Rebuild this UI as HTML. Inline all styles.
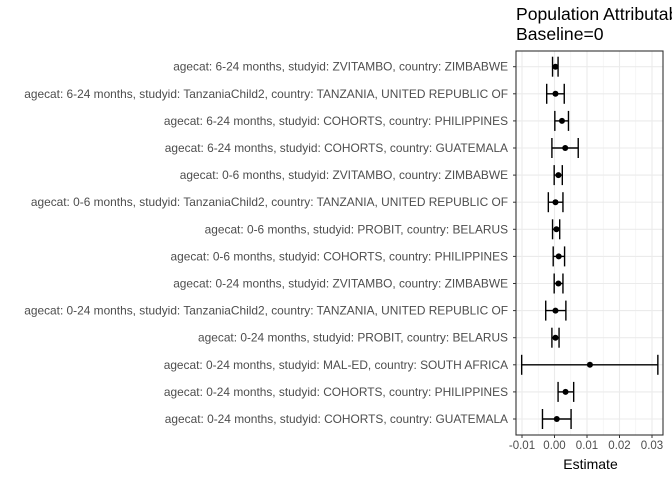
<!DOCTYPE html>
<html><head><meta charset="utf-8"><style>
body{margin:0;background:#fff;overflow:hidden}
svg{display:block;font-family:"Liberation Sans",sans-serif}
</style></head><body>
<svg id="c" width="672" height="480"></svg>
<script>
const labels=["agecat: 6-24 months, studyid: ZVITAMBO, country: ZIMBABWE","agecat: 6-24 months, studyid: TanzaniaChild2, country: TANZANIA, UNITED REPUBLIC OF","agecat: 6-24 months, studyid: COHORTS, country: PHILIPPINES","agecat: 6-24 months, studyid: COHORTS, country: GUATEMALA","agecat: 0-6 months, studyid: ZVITAMBO, country: ZIMBABWE","agecat: 0-6 months, studyid: TanzaniaChild2, country: TANZANIA, UNITED REPUBLIC OF","agecat: 0-6 months, studyid: PROBIT, country: BELARUS","agecat: 0-6 months, studyid: COHORTS, country: PHILIPPINES","agecat: 0-24 months, studyid: ZVITAMBO, country: ZIMBABWE","agecat: 0-24 months, studyid: TanzaniaChild2, country: TANZANIA, UNITED REPUBLIC OF","agecat: 0-24 months, studyid: PROBIT, country: BELARUS","agecat: 0-24 months, studyid: MAL-ED, country: SOUTH AFRICA","agecat: 0-24 months, studyid: COHORTS, country: PHILIPPINES","agecat: 0-24 months, studyid: COHORTS, country: GUATEMALA"];
const estimates=[0.0003,0.0003,0.0023,0.0033,0.0012,0.0003,0.0006,0.0013,0.0012,0.0003,0.0003,0.0109,0.0034,0.0007];
const lower=[-0.0006,-0.0024,0.0001,-0.0008,-0.0001,-0.0019,-0.0006,-0.0004,-0.0001,-0.0027,-0.0008,-0.0101,0.0011,-0.0037];
const upper=[0.0011,0.0030,0.0043,0.0073,0.0024,0.0026,0.0016,0.0031,0.0026,0.0035,0.0014,0.0318,0.0059,0.0051];
const ticks=[-0.01,0,0.01,0.02,0.03];
const tickLabels=["-0.01","0.00","0.01","0.02","0.03"];
const L=516,R=663,T=51,B=435;
const x=v=>554.5+v*3250;
const y=i=>66.7+i*(419-66.7)/(labels.length-1);
const svg=document.getElementById('c');const NS="http://www.w3.org/2000/svg";
function add(tag,a,name,txt){const e=document.createElementNS(NS,tag);for(const k in a)e.setAttribute(k,a[k]);


if(txt!==undefined)e.textContent=txt;svg.appendChild(e);return e;}
add('rect',{x:L,y:T,width:R-L,height:B-T,fill:'#fff'},'plot-panel');
for(let i=0;i<ticks.length-1;i++){const m=x((ticks[i]+ticks[i+1])/2);add('line',{x1:m,x2:m,y1:T,y2:B,stroke:'#f0f0f0','stroke-width':0.6},'minor-gridline');}
ticks.forEach(t=>add('line',{x1:x(t),x2:x(t),y1:T,y2:B,stroke:'#ebebeb','stroke-width':1.1},'major-gridline'));
labels.forEach((l,i)=>add('line',{x1:L,x2:R,y1:y(i),y2:y(i),stroke:'#ebebeb','stroke-width':1.1},'row-gridline'));
labels.forEach((l,i)=>{
add('line',{x1:x(lower[i]),x2:x(upper[i]),y1:y(i),y2:y(i),stroke:'#000','stroke-width':1.4},'ci-line');
add('line',{x1:x(lower[i]),x2:x(lower[i]),y1:y(i)-10,y2:y(i)+10,stroke:'#000','stroke-width':1.4},'ci-cap-low');
add('line',{x1:x(upper[i]),x2:x(upper[i]),y1:y(i)-10,y2:y(i)+10,stroke:'#000','stroke-width':1.4},'ci-cap-high');
add('circle',{cx:x(estimates[i]),cy:y(i),r:3,fill:'#000'},'estimate-point');
add('text',{x:508,y:y(i)+4,'text-anchor':'end','font-size':11.9,fill:'#4d4d4d'},'y-tick-label',l);
add('line',{x1:513,x2:L,y1:y(i),y2:y(i),stroke:'#333'},'y-tick');
});
add('rect',{x:L,y:T,width:R-L,height:B-T,fill:'none',stroke:'#333','stroke-width':1.1},'panel-border');
ticks.forEach((t,i)=>{add('line',{x1:x(t),x2:x(t),y1:B,y2:B+3,stroke:'#333'},'x-tick');
add('text',{x:x(t),y:B+14,'text-anchor':'middle','font-size':11.5,fill:'#4d4d4d'},'x-tick-label',tickLabels[i]);});
add('text',{x:(L+R)/2+1,y:469,'text-anchor':'middle','font-size':14,fill:'#000'},'x-axis-title','Estimate');
add('text',{x:516,y:20,'font-size':17.6,fill:'#000'},'chart-title','Population Attributable');
add('text',{x:516,y:40,'font-size':17.6,fill:'#000'},'chart-subtitle','Baseline=0');
</script>
</body></html>
